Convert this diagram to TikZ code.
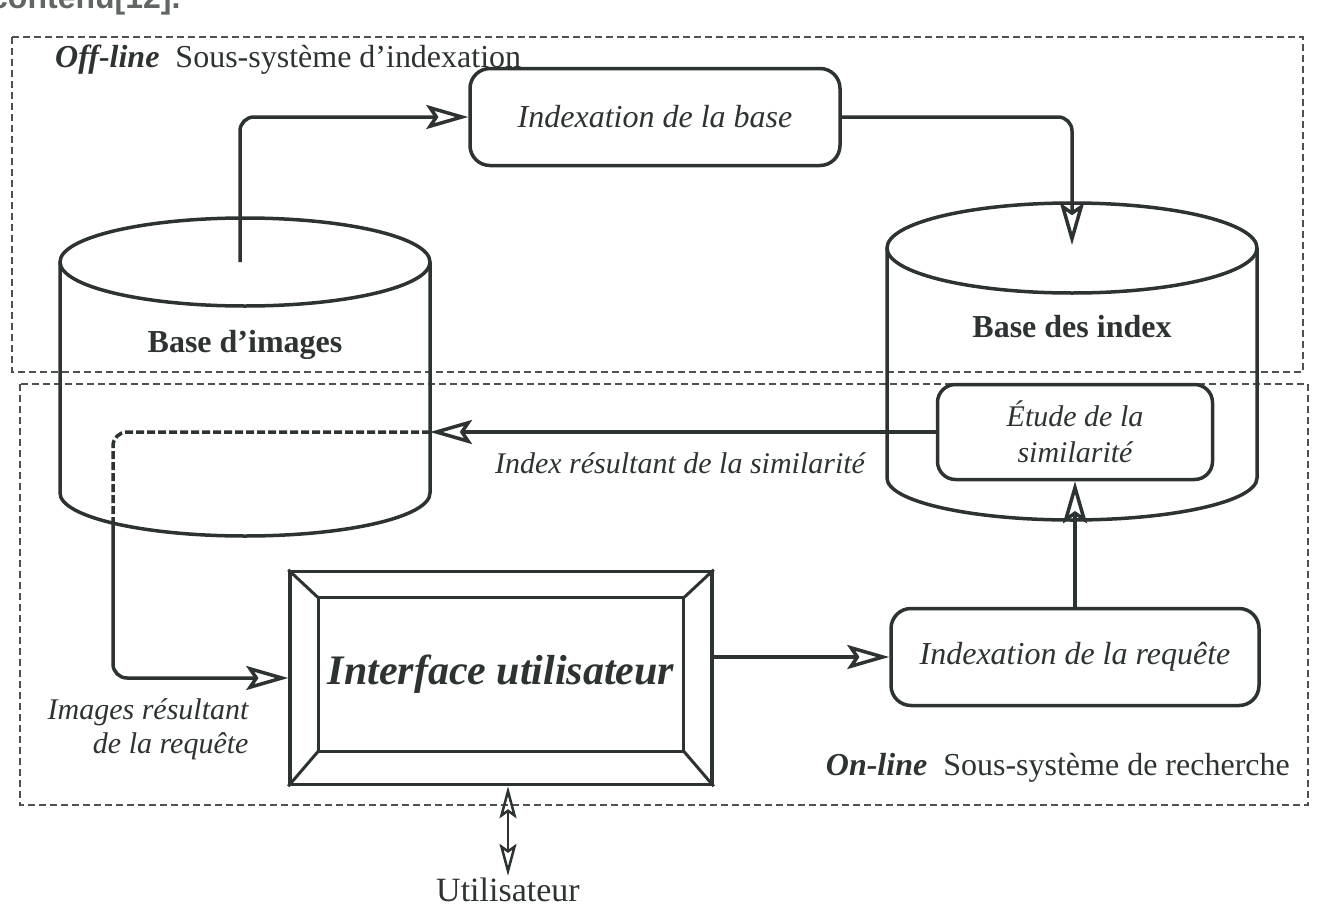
\documentclass[tikz,border=0pt]{standalone}
\usepackage{fontspec}
\setmainfont{Liberation Serif}
\newfontfamily\sansf{Liberation Sans}
\usetikzlibrary{arrows.meta,calc}
\definecolor{ink}{RGB}{45,50,50}
\begin{document}
\begin{tikzpicture}[x=1pt,y=-1pt,
  every node/.style={text=ink},
  line/.style={draw=ink,line width=3.5pt},
  arr/.style={line,rounded corners=14pt,-{Stealth[open,length=42pt,width=24pt,inset=8pt,line width=3.5pt]}},
  dblarr/.style={draw=ink,line width=2pt,{Stealth[open,length=32pt,width=17pt,inset=6pt,line width=2.5pt]}-{Stealth[open,length=32pt,width=17pt,inset=6pt,line width=2.5pt]}},
  frame/.style={draw=ink!85,line width=2.2pt,dash pattern=on 7pt off 4pt},
  rbox/.style={draw=ink,line width=3.5pt,rounded corners=20pt,align=center,inner sep=0pt},
  lbl/.style={font=\fontsize{30}{34}\selectfont\itshape},
  cyl/.style={draw=ink,line width=3.5pt},
]
\useasboundingbox (0,0) rectangle (1318,913);

% clipped text from the page above
\node[anchor=base west,inner sep=0pt,text=ink!75,font=\sansf\bfseries\fontsize{32}{32}\selectfont] (topcut) at (-10,8) {contenu[12].};

% sub-system frames
\draw[frame] (12,37) rectangle (1303,372);
\draw[frame] (20,384) rectangle (1308,805);

\node[anchor=base west,inner sep=0pt,font=\fontsize{32}{36}\selectfont] (offlbl) at (55,67) {\textbf{\textit{Off-line}}\enspace Sous-système d’indexation};
\node[anchor=base east,inner sep=0pt,font=\fontsize{32}{36}\selectfont] (onlbl) at (1290,775) {\textbf{\textit{On-line}}\enspace Sous-système de recherche};

% cylinder: Base d'images
\draw[cyl] (245,262) ellipse [x radius=185pt, y radius=44pt];
\draw[cyl] (60,262) -- (60,493) arc[start angle=180,end angle=360,x radius=185pt,y radius=43pt] -- (430,262);
\node[font=\bfseries\fontsize{32}{36}\selectfont] (bimg) at (245,345) {Base d’images};

% cylinder: Base des index
\draw[cyl] (1072,248) ellipse [x radius=185pt, y radius=45pt];
\draw[cyl] (887,248) -- (887,478) arc[start angle=180,end angle=360,x radius=185pt,y radius=42pt] -- (1257,248);
\node[font=\bfseries\fontsize{32}{36}\selectfont] (bidx) at (1072,327) {Base des index};

% process boxes
\node[rbox,minimum width=370pt,minimum height=97pt,font=\fontsize{32}{36}\selectfont\itshape] (ib) at (655,117) {Indexation de la base};
\node[rbox,minimum width=275pt,minimum height=95pt,rounded corners=18pt,font=\fontsize{30}{36}\selectfont\itshape] (etude) at (1075,432) {Étude de la\\similarité};
\node[rbox,minimum width=368pt,minimum height=97pt,font=\fontsize{32}{36}\selectfont\itshape] (iq) at (1075,657) {Indexation de la requête};

% user interface frame
\node[draw=ink,line width=3.5pt,minimum width=422pt,minimum height=213pt,inner sep=0pt] (iface) at (501,678) {};
\coordinate (i1) at ($(iface.north west)+(30,28)$);
\coordinate (i2) at ($(iface.north east)+(-30,28)$);
\coordinate (i3) at ($(iface.south east)+(-30,-35)$);
\coordinate (i4) at ($(iface.south west)+(30,-35)$);
\draw[line,line width=3pt] (i1) -- (i2) -- (i3) -- (i4) -- cycle;
\draw[line,line width=3pt] (iface.north west) -- (i1) (iface.north east) -- (i2) (iface.south east) -- (i3) (iface.south west) -- (i4);
\node[font=\bfseries\itshape\fontsize{42}{46}\selectfont] (iftext) at ($(i1)!0.5!(i3)$) {Interface utilisateur};

\node[font=\fontsize{34}{38}\selectfont,inner sep=2pt] (user) at (508,890) {Utilisateur};

% labels
\node[lbl] (simlbl) at (680,463) {Index résultant de la similarité};
\node[lbl,align=right,anchor=east] (reslbl) at (252,729) {Images résultant\\de la requête};

% connectors
\coordinate (imgtop) at (240,262);
\coordinate (idxtop) at (1072,245);
\coordinate (imgside) at (430,432);
\coordinate (imgbend) at (113,432);
\coordinate (imgbot) at (113,523);

\draw[arr] (imgtop) |- (ib.west);
\draw[arr] (ib.east) -| (idxtop);
\draw[arr] (etude.west) -- (imgside);
\draw[line,rounded corners=14pt,dash pattern=on 8pt off 3pt] (imgside) -- (imgbend) -- (imgbot);
\draw[arr] (imgbot) |- (iface.west);
\draw[arr] (iface.east |- iq.west) -- (iq.west);
\draw[arr] (iq.north) -- (etude.south);
\draw[dblarr] (user.north |- iface.south) -- (user.north);
\end{tikzpicture}
\end{document}
